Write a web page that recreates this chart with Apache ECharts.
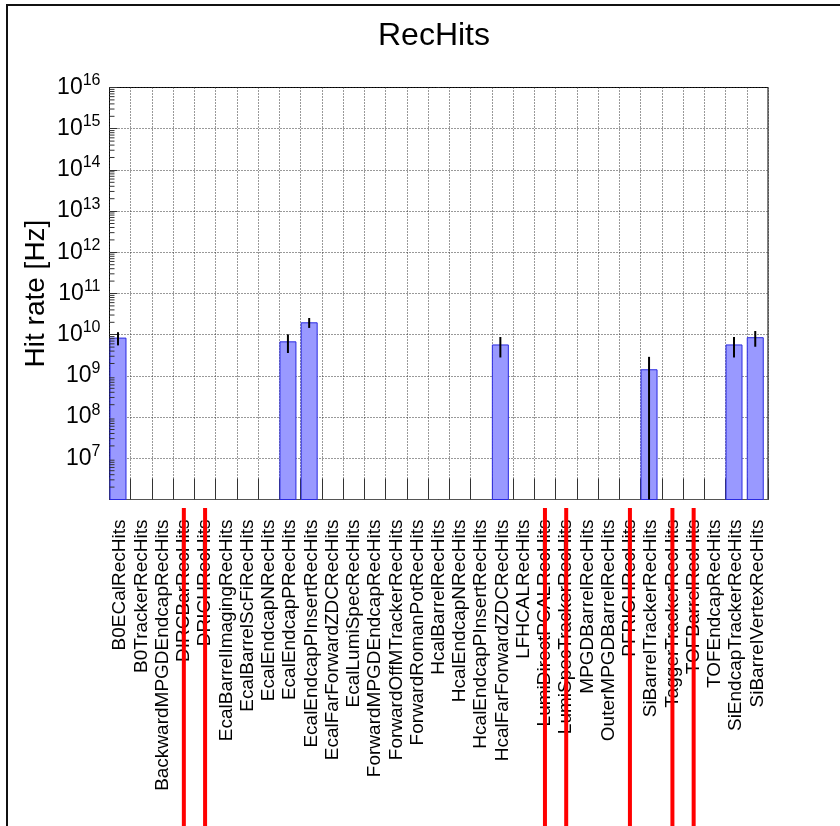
<!DOCTYPE html>
<html>
<head>
<meta charset="utf-8">
<title>RecHits</title>
<script src="https://cdn.jsdelivr.net/npm/echarts@6/dist/echarts.min.js"></script>
<style>
  html, body { margin: 0; padding: 0; background: #fff; }
  #main { width: 840px; height: 826px; }
</style>
</head>
<body>
<div id="main"></div>
<script>
// Hit-rate per reconstructed-hit collection
var categories = [
  'B0ECalRecHits', 'B0TrackerRecHits', 'BackwardMPGDEndcapRecHits', 'DIRCBarRecHits',
  'DRICHRecHits', 'EcalBarrelImagingRecHits', 'EcalBarrelScFiRecHits', 'EcalEndcapNRecHits',
  'EcalEndcapPRecHits', 'EcalEndcapPInsertRecHits', 'EcalFarForwardZDCRecHits', 'EcalLumiSpecRecHits',
  'ForwardMPGDEndcapRecHits', 'ForwardOffMTrackerRecHits', 'ForwardRomanPotRecHits', 'HcalBarrelRecHits',
  'HcalEndcapNRecHits', 'HcalEndcapPInsertRecHits', 'HcalFarForwardZDCRecHits', 'LFHCALRecHits',
  'LumiDirectPCALRecHits', 'LumiSpecTrackerRecHits', 'MPGDBarrelRecHits', 'OuterMPGDBarrelRecHits',
  'PFRICHRecHits', 'SiBarrelTrackerRecHits', 'TaggerTrackerRecHits', 'TOFBarrelRecHits',
  'TOFEndcapRecHits', 'SiEndcapTrackerRecHits', 'SiBarrelVertexRecHits'
];

// Hit rate [Hz] (null = no entry)
var hitRate = [
  8.5e9, null, null, null, null, null, null, null,
  6.9e9, 2.0e10, null, null, null, null, null, null,
  null, null, 5.8e9, null, null, null, null, null,
  null, 1.45e9, null, null, null, 5.8e9, 8.7e9
];

// Uncertainty on the hit rate [Hz]
var hitRateErr = [
  3.0e9, null, null, null, null, null, null, null,
  3.3e9, 5.4e9, null, null, null, null, null, null,
  null, null, 3.0e9, null, null, null, null, null,
  null, 1.45e9, null, null, null, 3.0e9, 3.6e9
];

// Collections flagged with a red marker under the axis
var flaggedCollections = [
  'DIRCBarRecHits', 'DRICHRecHits', 'LumiDirectPCALRecHits', 'LumiSpecTrackerRecHits',
  'PFRICHRecHits', 'TaggerTrackerRecHits', 'TOFBarrelRecHits'
];

// Log axis range (decades) and labelled exponents
var yMin = 1e6;
var yMax = 1e16;
var labelledExponents = [7, 8, 9, 10, 11, 12, 13, 14, 15, 16];

var FONT = '"Liberation Sans", Arial, Helvetica, sans-serif';

// Minor tick positions of the log axis: 2..9 x 10^n
var minorTicks = [];
for (var e = 6; e < 16; e++) {
  for (var k = 2; k <= 9; k++) minorTicks.push([0, k * Math.pow(10, e)]);
}

var errorData = [];
hitRate.forEach(function (v, i) {
  if (v != null) errorData.push([i, v, hitRateErr[i]]);
});

var flagData = categories.map(function (c) {
  return flaggedCollections.indexOf(c) >= 0 ? 1 : null;
});

var chart = echarts.init(document.getElementById('main'), null, { renderer: 'canvas' });

var option = {
  animation: false,
  backgroundColor: '#ffffff',
  textStyle: { fontFamily: FONT },
  title: {
    text: 'RecHits',
    left: 429,
    textAlign: 'center',
    top: 15,
    textStyle: { fontSize: 32, fontWeight: 'normal', color: '#000', fontFamily: FONT }
  },
  graphic: [{
    // canvas frame: left and top edges
    type: 'polyline',
    silent: true,
    z: -10,
    shape: { points: [[7, 900], [7, 5], [900, 5]] },
    style: { fill: null, stroke: '#111', lineWidth: 2 }
  }],
  grid: [
    { left: 109.5, right: 72, top: 87.5, bottom: 326.5, show: true,
      borderColor: '#000', borderWidth: 1, backgroundColor: 'transparent' },
    { left: 109.5, right: 72, top: 508, bottom: 0 }
  ],
  xAxis: [
    {
      type: 'category', gridIndex: 0, data: categories, boundaryGap: true,
      axisLine: { show: true, lineStyle: { color: '#555', width: 1 } },
      axisTick: { show: true, inside: true, length: 21, interval: 0, lineStyle: { color: '#333' } },
      axisLabel: { interval: 0, rotate: 90, fontSize: 19, color: '#000', margin: 20, fontFamily: FONT },
      splitLine: { show: true, interval: 0, lineStyle: { type: [1, 2], color: '#333', width: 1 } }
    },
    { type: 'category', gridIndex: 1, data: categories, show: false }
  ],
  yAxis: [
    {
      type: 'log', gridIndex: 0, logBase: 10, min: yMin, max: yMax, interval: 1, splitNumber: 10,
      axisLine: { show: false },
      axisTick: { show: true, inside: true, length: 8, lineStyle: { color: '#333' } },
      splitLine: { show: true, lineStyle: { type: [1, 2], color: '#333', width: 1 } },
      axisLabel: {
        margin: 9,
        formatter: function (v) {
          var ex = Math.round(Math.log10(v));
          if (labelledExponents.indexOf(ex) < 0) return '';
          return '{b|10}{s|' + ex + '}';
        },
        rich: {
          b: { fontSize: 23, color: '#000', lineHeight: 30, fontFamily: FONT },
          s: { fontSize: 16, color: '#000', lineHeight: 16, verticalAlign: 'top', fontFamily: FONT }
        }
      },
      name: 'Hit rate [Hz]',
      nameLocation: 'middle',
      nameRotate: 90,
      nameGap: 59,
      nameMoveOverlap: false,
      nameTextStyle: { fontSize: 28, color: '#000', fontFamily: FONT }
    },
    { type: 'value', gridIndex: 1, min: 0, max: 1, show: false }
  ],
  series: [
    {
      name: 'Hit rate',
      type: 'bar',
      xAxisIndex: 0, yAxisIndex: 0,
      data: hitRate,
      barWidth: '80%',
      barGap: '0%',
      itemStyle: { color: '#9999ff', borderColor: '#2a2ae0', borderWidth: 1 },
      z: 2
    },
    {
      name: 'spacer',
      type: 'bar',
      xAxisIndex: 0, yAxisIndex: 0,
      data: categories.map(function () { return null; }),
      barWidth: '20%',
      barGap: '0%',
      silent: true
    },
    {
      name: 'errors',
      type: 'custom',
      xAxisIndex: 0, yAxisIndex: 0,
      data: errorData,
      encode: { x: 0, y: 1 },
      z: 4,
      renderItem: function (params, api) {
        var i = api.value(0), v = api.value(1), err = api.value(2);
        var band = api.size([1, 0], [i, v])[0];
        var x = api.coord([i, v])[0] - 0.1 * band;
        var top = api.coord([i, v + err])[1];
        var cs = params.coordSys;
        var bottom = (v - err) > yMin ? api.coord([i, v - err])[1] : cs.y + cs.height;
        return {
          type: 'line',
          shape: { x1: x, y1: top, x2: x, y2: bottom },
          style: { stroke: '#000', lineWidth: 2 }
        };
      }
    },
    {
      name: 'minor ticks',
      type: 'custom',
      xAxisIndex: 0, yAxisIndex: 0,
      data: minorTicks,
      encode: { x: 0, y: 1 },
      silent: true,
      z: 3,
      renderItem: function (params, api) {
        var y = api.coord([0, api.value(1)])[1];
        var x0 = params.coordSys.x;
        return {
          type: 'line',
          shape: { x1: x0, y1: y, x2: x0 + 5, y2: y },
          style: { stroke: '#333', lineWidth: 1 }
        };
      }
    },
    {
      name: 'flags',
      type: 'bar',
      xAxisIndex: 1, yAxisIndex: 1,
      data: flagData,
      barWidth: 4,
      itemStyle: { color: '#ff0000' },
      silent: true,
      z: 10
    }
  ]
};

chart.setOption(option);
</script>
</body>
</html>
